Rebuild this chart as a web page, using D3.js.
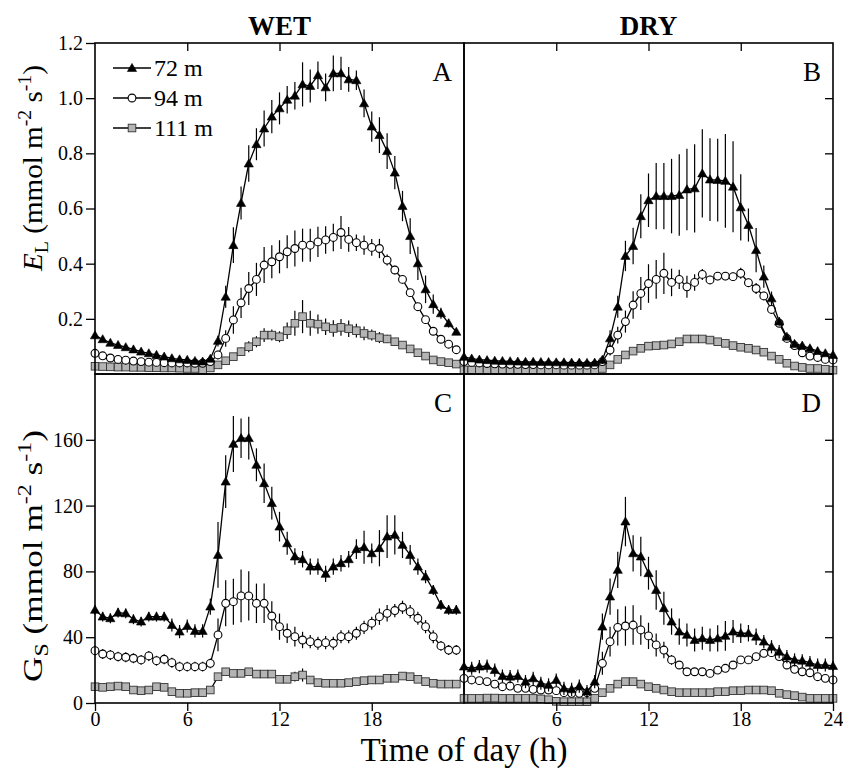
<!DOCTYPE html>
<html><head><meta charset="utf-8">
<script src="https://cdn.jsdelivr.net/npm/d3@7"></script>
<style>
body{margin:0;background:#fff}
svg{display:block}
text{font-family:"Liberation Serif","Times New Roman",serif;fill:#000}
</style>
</head><body>
<svg id="chart" width="843" height="771"></svg>
<script>
// ---------- data ----------
const timeWet = d3.range(0, 24, 0.5);   // 48 half-hour steps, 0 .. 23.5 h
const timeDry = d3.range(0, 24.5, 0.5); // 49 half-hour steps, 0 .. 24 h
const seriesNames = ["72 m", "94 m", "111 m"];
const xTicksWet = [0, 6, 12, 18];
const xTicksDry = [6, 12, 18, 24];
const xTicksTop = [6, 12, 18];
const yTicksE = [0.2, 0.4, 0.6, 0.8, 1.0, 1.2];
const yTicksG = [0, 40, 80, 120, 160];
const yTicksERight = [0.2, 0.4, 0.6, 0.8, 1.0];
const yTicksGRight = [40, 80, 120, 160];

// Panel A: E_L, WET
const A72 = [0.14,0.126,0.113,0.105,0.097,0.089,0.081,0.075,0.069,0.063,0.057,0.053,0.051,0.047,0.045,0.055,
 0.12,0.28,0.467,0.62,0.763,0.833,0.89,0.933,0.963,0.994,1.009,1.05,1.044,1.083,1.039,1.09,1.09,1.068,1.065,0.981,
 0.897,0.866,0.808,0.73,0.609,0.5,0.401,0.307,0.253,0.22,0.184,0.153];
const A72se = [0.01,0.01,0.01,0.01,0.01,0.01,0.01,0.01,0.01,0.01,0.01,0.01,0.01,0.01,0.01,0.01,
 0.02,0.04,0.065,0.06,0.066,0.058,0.065,0.06,0.058,0.05,0.05,0.08,0.06,0.05,0.05,0.065,0.06,0.045,0.035,0.05,
 0.055,0.065,0.065,0.06,0.055,0.065,0.06,0.05,0.035,0.02,0.015,0.01];
const A94 = [0.075,0.066,0.058,0.053,0.05,0.047,0.045,0.043,0.042,0.041,0.04,0.04,0.04,0.039,0.039,0.045,
 0.069,0.129,0.196,0.258,0.31,0.343,0.395,0.407,0.425,0.443,0.455,0.467,0.467,0.479,0.486,0.495,0.513,0.488,0.476,0.467,
 0.459,0.455,0.413,0.377,0.343,0.295,0.244,0.197,0.155,0.126,0.108,0.088];
const A94se = [0.008,0.008,0.008,0.008,0.008,0.008,0.008,0.008,0.008,0.008,0.008,0.008,0.008,0.008,0.008,0.008,
 0.015,0.03,0.05,0.055,0.06,0.06,0.065,0.06,0.06,0.06,0.065,0.06,0.06,0.055,0.05,0.05,0.06,0.045,0.03,0.035,
 0.03,0.035,0.02,0.015,0.015,0.012,0.01,0.01,0.01,0.008,0.008,0.008];
const A111 = [0.028,0.027,0.026,0.025,0.025,0.024,0.024,0.023,0.023,0.022,0.022,0.021,0.02,0.02,0.015,0.022,
 0.033,0.048,0.063,0.081,0.099,0.117,0.141,0.141,0.135,0.157,0.184,0.208,0.184,0.181,0.171,0.165,0.169,0.164,0.157,0.147,
 0.141,0.132,0.127,0.117,0.105,0.091,0.077,0.065,0.051,0.045,0.041,0.036];
const A111se = [0.006,0.006,0.006,0.006,0.006,0.006,0.006,0.006,0.006,0.006,0.006,0.006,0.006,0.006,0.006,0.006,
 0.008,0.01,0.012,0.015,0.02,0.02,0.025,0.02,0.02,0.03,0.045,0.06,0.045,0.035,0.03,0.03,0.03,0.03,0.025,0.025,
 0.02,0.02,0.015,0.012,0.01,0.01,0.008,0.008,0.006,0.006,0.006,0.006];

// Panel B: E_L, DRY
const B72 = [0.062,0.056,0.052,0.05,0.048,0.047,0.046,0.045,0.044,0.044,0.043,0.043,0.042,0.042,0.041,0.041,0.04,0.041,
 0.051,0.129,0.244,0.428,0.464,0.572,0.63,0.645,0.645,0.645,0.649,0.669,0.673,0.727,0.705,0.703,0.7,0.679,0.604,0.54,
 0.449,0.353,0.274,0.19,0.135,0.109,0.103,0.093,0.083,0.075,0.069];
const B72se = [0.005,0.005,0.005,0.005,0.005,0.005,0.005,0.005,0.005,0.005,0.005,0.005,0.005,0.005,0.005,0.005,0.005,0.005,
 0.015,0.03,0.04,0.055,0.066,0.08,0.097,0.12,0.12,0.135,0.148,0.148,0.16,0.16,0.15,0.15,0.17,0.165,0.12,0.06,
 0.08,0.04,0.025,0.015,0.01,0.01,0.01,0.008,0.008,0.008,0.008];
const B94 = [0.045,0.042,0.04,0.038,0.037,0.036,0.035,0.035,0.034,0.034,0.033,0.033,0.033,0.032,0.032,0.032,0.032,0.033,
 0.045,0.087,0.141,0.19,0.25,0.292,0.328,0.343,0.365,0.332,0.343,0.316,0.332,0.361,0.341,0.355,0.355,0.353,0.365,0.331,
 0.31,0.283,0.234,0.184,0.129,0.103,0.077,0.065,0.06,0.053,0.051];
const B94se = [0.005,0.005,0.005,0.005,0.005,0.005,0.005,0.005,0.005,0.005,0.005,0.005,0.005,0.005,0.005,0.005,0.005,0.005,
 0.01,0.02,0.03,0.04,0.05,0.06,0.07,0.07,0.075,0.05,0.035,0.04,0.03,0.02,0.015,0.015,0.015,0.015,0.02,0.015,
 0.02,0.015,0.01,0.008,0.008,0.008,0.008,0.008,0.008,0.008,0.008];
const B111 = [0.015,0.014,0.014,0.014,0.014,0.014,0.014,0.014,0.014,0.014,0.014,0.014,0.014,0.014,0.014,0.014,0.014,0.014,
 0.02,0.033,0.053,0.069,0.083,0.093,0.101,0.103,0.105,0.109,0.117,0.127,0.127,0.127,0.123,0.117,0.111,0.103,0.097,0.093,
 0.087,0.079,0.065,0.053,0.039,0.029,0.024,0.02,0.02,0.017,0.014];
const B111se = [0.004,0.004,0.004,0.004,0.004,0.004,0.004,0.004,0.004,0.004,0.004,0.004,0.004,0.004,0.004,0.004,0.004,0.004,
 0.005,0.006,0.008,0.008,0.01,0.01,0.01,0.01,0.01,0.01,0.012,0.012,0.012,0.012,0.012,0.01,0.01,0.01,0.01,0.01,
 0.008,0.008,0.008,0.006,0.005,0.005,0.004,0.004,0.004,0.004,0.004];

// Panel C: G_S, WET
const C72 = [56.6,52.5,51.5,54.9,54.5,50.9,49.5,52.5,52.5,52.5,47.4,43.4,46.8,43.8,43.8,58.6,
 90,134.6,157.5,161,161,144.8,133.6,121.5,107.2,97.1,89,87.4,82.9,82.9,78.5,82.9,85,87.4,93.5,94.7,
 91,94.1,101.2,102.2,96.1,90,82.9,76.8,68.7,59.6,56.6,56.6];
const C72se = [3,3,3,3,3,3,3,3,3,3,4,4,4,4,4,5,
 20,16,17,12,13,10,12,10,9,7,5,5,5,5,5,5,5,5,6,10,
 6,11,13,12,8,6,5,4,3,3,3,3];
const C94 = [31.8,29.8,29.2,28.2,27.8,27.2,26.2,28.6,25.7,26.6,24.5,22.1,22.1,22.1,22.1,24.1,
 41.4,60.6,61.6,65.1,65.1,60.6,60.6,52.9,46.4,42.4,40.3,38.3,37.3,36.3,36.7,36.3,40.3,40.3,42.4,46,
 48.5,52.5,54.5,56.2,58.2,55.5,51.5,46.4,40.3,34.7,32.2,32.2];
const C94se = [3,3,3,3,3,3,3,3,3,3,3,3,3,3,3,3,
 10,14,14,16,15,12,12,9,8,6,6,5,4,4,4,4,4,4,4,4,
 4,5,5,4,4,4,4,4,4,3,3,3];
const C111 = [9.9,9.5,9.9,10.3,9.9,7.9,7.5,7.9,9.9,9.5,6.9,5.9,5.9,6.3,6.3,7.9,
 16,19,18,18,19,17.6,17.6,17.6,14.4,14.4,16,17,14,12.4,12,12,12,12.4,13,13.6,
 14,14,15,15,16.4,16,14.4,13,12,11.5,11.5,11.5];
const C111se = [1.5,1.5,1.5,1.5,1.5,1.5,1.5,1.5,1.5,1.5,1.5,1.5,1.5,1.5,1.5,1.5,
 2,2,2,2,2,2,2,2,2,2,3,4,2,2,2,2,2,2,2,2,
 2,2,2,2,2,2,2,2,1.5,1.5,1.5,1.5];

// Panel D: G_S, DRY
const D72 = [22.1,21.1,22.1,22.5,20,16.4,16,16.4,13,15,12,11,14,8.9,8.3,10.3,6.9,13,
 46.4,64.7,80.9,110.3,91,89,78.9,68.7,57.6,49.5,43.4,41.4,38.3,39.3,38.3,39.3,40.8,43.4,42.4,42.4,
 40.3,37.3,34.2,31.2,28.2,26.2,25.7,24.5,23.1,23.1,22.5];
const D72se = [4,4,4,4,4,4,4,4,4,4,4,4,4,4,4,4,4,4,
 8,11,11,15,11,12,10,12,10,8,8,7,7,7,7,8,9,7,6,5,
 5,4,4,4,4,4,4,4,4,4,3];
const D94 = [15,14,13.6,13,11.5,9.9,10.3,8.9,8.9,8.3,7.9,7.9,7.5,6.3,5.9,5.9,6.3,8.9,
 24.1,37.3,46,46.8,47.4,44.4,40.8,35.3,32.2,26.2,23.1,19,19,19,18,20,21.1,23.1,26.2,26.2,
 28.2,30.2,30.6,28.2,23.1,20.5,19,18.4,16,15,14];
const D94se = [2,2,2,2,2,2,2,2,2,2,2,2,2,2,2,2,2,2,
 7,9,11,12,12,9,8,7,5,3,2,2,2,2,2,2,2,2,2,2,
 2,2,2,2,2,2,2,2,2,2,2];
const D111 = [2.8,2.8,2.8,3,3,2.8,2.8,2.8,2.8,2.8,2.5,2,1,0.8,0.8,0.8,0.8,2.8,
 6.3,8.9,11.5,13,13,11.5,9.9,8.9,7.9,6.9,6.3,6.3,6.3,6.3,6.3,6.9,6.9,7.5,7.5,7.9,
 7.9,7.9,7.5,5.9,5.1,4.5,3.6,2.8,2.8,2.8,2.8];
const D111se = [1,1,1,1,1,1,1,1,1,1,1,1,1,1,1,1,1,1,
 1,1,1.5,1.5,1.5,1.5,1,1,1,1,1,1,1,1,1,1,1,1,1,1,
 1,1,1,1,1,1,1,1,1,1,1];

// ---------- layout ----------
const svg = d3.select("#chart");
const X0 = 95, XM = 464, X1 = 833, Y0 = 43, YM = 374, Y1 = 703;
const xWet = d3.scaleLinear().domain([0, 24]).range([X0, XM]);
const xDry = d3.scaleLinear().domain([0, 24]).range([XM, X1]);
const yE = d3.scaleLinear().domain([0, 1.2]).range([YM, Y0]);
const yG = d3.scaleLinear().domain([0, 200]).range([Y1, YM]);

const panels = [
  {x: xWet, y: yE, t: timeWet, v: [A72, A94, A111], e: [A72se, A94se, A111se], letter: "A", top: true, left: true},
  {x: xDry, y: yE, t: timeDry, v: [B72, B94, B111], e: [B72se, B94se, B111se], letter: "B", top: true, left: false},
  {x: xWet, y: yG, t: timeWet, v: [C72, C94, C111], e: [C72se, C94se, C111se], letter: "C", top: false, left: true},
  {x: xDry, y: yG, t: timeDry, v: [D72, D94, D111], e: [D72se, D94se, D111se], letter: "D", top: false, left: false}
];

const LW = 1.3;
function marker(g, kind, cx, cy) {
  if (kind === 0) {
    const s = 4.6;
    g.append("path")
      .attr("d", `M${cx},${cy - s}L${cx + s},${cy + s * 0.75}L${cx - s},${cy + s * 0.75}Z`)
      .attr("fill", "#000").attr("stroke", "#000").attr("stroke-width", 0.6);
  } else if (kind === 1) {
    g.append("circle").attr("cx", cx).attr("cy", cy).attr("r", 3.9)
      .attr("fill", "#fff").attr("stroke", "#000").attr("stroke-width", 1.1);
  } else {
    g.append("rect").attr("x", cx - 3.8).attr("y", cy - 3.8).attr("width", 7.6).attr("height", 7.6)
      .attr("fill", "#b4b4b4").attr("stroke", "#333").attr("stroke-width", 0.9);
  }
}

panels.forEach(p => {
  const g = svg.append("g");
  [2, 1, 0].forEach(si => {
    const vals = p.v[si], errs = p.e[si];
    const pts = p.t.map((h, i) => ({h, v: vals[i], e: errs[i]}));
    const sg = g.append("g");
    sg.append("path")
      .attr("d", d3.line().x(d => p.x(d.h)).y(d => p.y(d.v))(pts))
      .attr("fill", "none").attr("stroke", "#000").attr("stroke-width", LW);
    sg.selectAll("line.err").data(pts).join("line")
      .attr("x1", d => p.x(d.h)).attr("x2", d => p.x(d.h))
      .attr("y1", d => p.y(d.v - d.e)).attr("y2", d => p.y(d.v + d.e))
      .attr("stroke", "#000").attr("stroke-width", 1.2);
    pts.forEach(d => marker(sg, si, p.x(d.h), p.y(d.v)));
  });

  const [xa, xb] = p.x.range();
  const [ya, yb] = p.y.range();
  g.append("rect").attr("x", xa).attr("y", yb).attr("width", xb - xa).attr("height", ya - yb)
    .attr("fill", "none").attr("stroke", "#000").attr("stroke-width", 1.6);

  const yTicks = p.top ? yTicksE : yTicksG;
  const yTicksR = p.top ? yTicksERight : yTicksGRight;
  if (p.left) {
    const ax = g.append("g").attr("transform", `translate(${xa},0)`)
      .call(d3.axisLeft(p.y).tickValues(yTicks).tickSize(9).tickPadding(3)
        .tickFormat(p.top ? d3.format(".1f") : d3.format("d")));
    ax.select(".domain").remove();
    ax.selectAll("line").attr("stroke-width", 1.3);
    ax.selectAll("text").attr("font-size", 20).attr("font-family", "Liberation Serif");
  } else {
    const ax = g.append("g").attr("transform", `translate(${xb},0)`)
      .call(d3.axisLeft(p.y).tickValues(yTicksR).tickSize(8).tickFormat(""));
    ax.select(".domain").remove();
    ax.selectAll("line").attr("stroke-width", 1.3);
  }
  if (p.top) {
    const ax = g.append("g").attr("transform", `translate(0,${yb})`)
      .call(d3.axisBottom(p.x).tickValues(xTicksTop).tickSize(8).tickFormat(""));
    ax.select(".domain").remove();
    ax.selectAll("line").attr("stroke-width", 1.3);
  } else {
    const ax = g.append("g").attr("transform", `translate(0,${ya})`)
      .call(d3.axisBottom(p.x).tickValues(p.left ? xTicksWet : xTicksDry).tickSize(8).tickPadding(1));
    ax.select(".domain").remove();
    ax.selectAll("line").attr("stroke-width", 1.3);
    ax.selectAll("text").attr("font-size", 20).attr("font-family", "Liberation Serif");
  }
  g.append("text").attr("x", xb - 12).attr("y", yb + 38).attr("text-anchor", "end")
    .attr("font-size", 27).text(p.letter);
});

// legend in panel A
const legY = [68, 98, 128];
seriesNames.forEach((name, i) => {
  const lg = svg.append("g");
  lg.append("line").attr("x1", 113).attr("x2", 151).attr("y1", legY[i]).attr("y2", legY[i])
    .attr("stroke", "#000").attr("stroke-width", LW);
  marker(lg, i, 132, legY[i]);
  lg.append("text").attr("x", 154).attr("y", legY[i]).attr("dy", "0.35em")
    .attr("font-size", 24).text(name);
});

// column titles
svg.append("text").attr("x", (X0 + XM) / 2).attr("y", 35).attr("text-anchor", "middle")
  .attr("font-size", 27).attr("font-weight", "bold").text("WET");
svg.append("text").attr("x", (XM + X1) / 2).attr("y", 35).attr("text-anchor", "middle")
  .attr("font-size", 27).attr("font-weight", "bold").text("DRY");

// y-axis titles
function yTitle(cy, sx, first, italic, sub) {
  const t = svg.append("text").attr("transform", `translate(42,${cy}) rotate(-90) scale(${sx},1)`)
    .attr("text-anchor", "middle").attr("font-size", 28);
  const f = t.append("tspan").text(first);
  if (italic) f.attr("font-style", "italic");
  t.append("tspan").attr("font-size", 19).attr("dy", 6).text(sub);
  t.append("tspan").attr("dy", -6).text(" (mmol m");
  t.append("tspan").attr("font-size", 19).attr("dy", -11).text("-2");
  t.append("tspan").attr("dy", 11).text(" s");
  t.append("tspan").attr("font-size", 19).attr("dy", -11).text("-1");
  t.append("tspan").attr("dy", 11).text(")");
}
yTitle(168, 1.04, "E", true, "L");
yTitle(556, 1.26, "G", false, "S");

// x-axis title
svg.append("text").attr("x", XM).attr("y", 761).attr("text-anchor", "middle")
  .attr("font-size", 33).text("Time of day (h)");
</script>
</body></html>
